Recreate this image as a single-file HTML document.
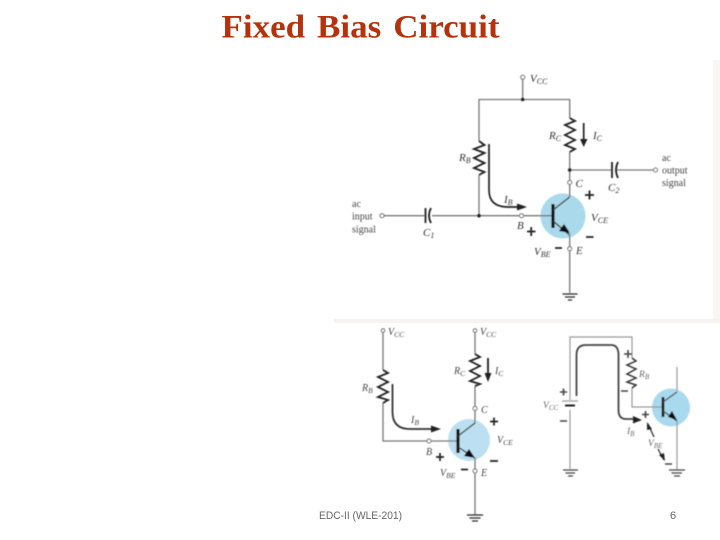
<!DOCTYPE html>
<html><head><meta charset="utf-8"><style>
html,body{margin:0;padding:0;background:#fff}
svg{display:block}
</style></head><body>
<svg xmlns="http://www.w3.org/2000/svg" width="720" height="540" viewBox="0 0 720 540">
<defs><filter id="b" x="-5%" y="-5%" width="110%" height="110%"><feGaussianBlur stdDeviation="0.4"/></filter></defs>
<rect width="720" height="540" fill="#fff"/>
<rect x="713" y="60" width="7" height="263" fill="#f8f7f4"/>
<rect x="334" y="319" width="386" height="4" fill="#f5f4f0"/>
<text x="221.5" y="37.5" font-family="Liberation Serif,serif" font-weight="bold" font-size="33" fill="#b5320c" textLength="278" lengthAdjust="spacingAndGlyphs" word-spacing="3">Fixed Bias Circuit</text>

<g filter="url(#b)">
<!-- TOP CIRCUIT -->
<circle cx="563" cy="216" r="22.5" fill="#a9d9ea"/>
<g fill="none" stroke="#777" stroke-width="1.3">
<path d="M522.7 79.5V99.5M479 141V99.5H569.7V118M569.7 152V180M569.7 185V197"/>
<path d="M479 175V215.7M384 215.7H425M432 215.7H519M524 215.7H552"/>
<path d="M569.7 170H611M617 170H653"/>
<path d="M569.7 235V246.5M569.7 251V293"/>
</g>
<g fill="#fff" stroke="#666" stroke-width="1"><circle cx="522.7" cy="77.3" r="2"/><circle cx="569.7" cy="182.5" r="2"/><circle cx="569.7" cy="248.7" r="2"/><circle cx="521.5" cy="215.7" r="2"/><circle cx="382" cy="215.7" r="2"/><circle cx="655.5" cy="170" r="2"/></g>
<g fill="#222"><circle cx="522.7" cy="99.5" r="1.8"/><circle cx="569.7" cy="170" r="1.8"/><circle cx="479" cy="215.7" r="1.8"/></g>
<g fill="none" stroke="#222" stroke-width="1.8">
<path d="M569.7 118L575 121L565 125L575 130L565 135L575 140L565 145L575 149L569.7 152"/>
<path d="M479 141L484.5 145L474 149L484.5 153L474 158L484.5 163L474 168L484.5 172L479 175"/>
<path d="M425.5 208V223"/><path d="M431 208Q427 215.7 431 223"/>
<path d="M612 162V178"/><path d="M618 162Q614 170 618 178"/>
<path d="M489 144V190Q489 207 508 207H522" stroke-width="1.7"/>
<path d="M583.7 123V143" stroke-width="1.7"/>
</g>
<path d="M527 207L517 203.5V210.5ZM583.7 147L580 139H587.5Z" fill="#222"/>
<path d="M553 204V228" stroke="#111" stroke-width="3.2"/>
<path d="M553 210L569.7 197M553 221L569.7 235" stroke="#333" stroke-width="1.3"/>
<path d="M570 233L559 231L564 224Z" fill="#111"/>
<path d="M562.5 294H577.5M565 297H575M568 300H572" stroke="#222" stroke-width="1.3"/>
<g stroke="#222" stroke-width="1.8"><path d="M585 195H594M589.5 190.5V199.5M527 231.5H535.5M531.2 227V236M555 248H562M586 237H593.5"/></g>

<g font-family="Liberation Serif,serif" fill="#444" font-size="10">
<text x="352" y="207">ac</text><text x="352" y="219.5">input</text><text x="352" y="232.5">signal</text>
<text x="662" y="161">ac</text><text x="662" y="173.5">output</text><text x="662" y="186">signal</text>
</g>
<g font-family="Liberation Serif,serif" fill="#333" font-style="italic" font-size="11">
<text x="530" y="82">V<tspan font-size="8" dy="2">CC</tspan></text>
<text x="549" y="139">R<tspan font-size="8" dy="2">C</tspan></text>
<text x="593" y="139">I<tspan font-size="8" dy="2">C</tspan></text>
<text x="459" y="161">R<tspan font-size="8" dy="2">B</tspan></text>
<text x="504" y="203">I<tspan font-size="8" dy="2">B</tspan></text>
<text x="575.5" y="187">C</text>
<text x="517" y="229">B</text>
<text x="576" y="254">E</text>
<text x="423" y="236">C<tspan font-size="8" dy="2">1</tspan></text>
<text x="608" y="191">C<tspan font-size="8" dy="2">2</tspan></text>
<text x="591" y="221">V<tspan font-size="8" dy="2">CE</tspan></text>
<text x="534" y="255">V<tspan font-size="8" dy="2">BE</tspan></text>
</g>

<!-- BOTTOM LEFT -->
<circle cx="469" cy="440" r="21" fill="#bcdff1"/>
<g fill="none" stroke="#777" stroke-width="1.3">
<path d="M383 332V370M383 403V441H427M431.5 441H457"/>
<path d="M475 332V354M475 386V406.5M475 410.5V423M475 458V469M475 473V515"/>
</g>
<g fill="#fff" stroke="#666" stroke-width="1"><circle cx="383" cy="330.5" r="1.8"/><circle cx="475" cy="330.5" r="1.8"/><circle cx="475" cy="408.5" r="2"/><circle cx="475" cy="471" r="2"/><circle cx="429" cy="441" r="2"/></g>
<g fill="none" stroke="#222" stroke-width="1.8">
<path d="M475 354L480 357L470 361L480 366L470 371L480 376L470 381L480 384L475 386"/>
<path d="M383 370L388 373L378 377L388 382L378 387L388 392L378 397L388 400L383 403"/>
<path d="M392.5 384V412Q392.5 429 410 429H436" stroke="#333"/>
<path d="M488 358V376"/>
</g>
<path d="M441 429L431 425.5V432.5ZM488 382L484.5 373H491.5Z" fill="#222"/>
<path d="M458 429V453" stroke="#111" stroke-width="3.2"/>
<path d="M458 436L475 423M458 447L475 458" stroke="#333" stroke-width="1.3"/>
<path d="M475 458L464 456L469 449Z" fill="#111"/>
<path d="M467 515H483M469.5 518H480.5M472 521H478" stroke="#222" stroke-width="1.3"/>
<g stroke="#222" stroke-width="1.7"><path d="M490 421.5H498M494 417.5V425.5M436 457H444M440 453V461M461 469.5H468M490 461H498"/></g>
<g font-family="Liberation Serif,serif" fill="#444" font-style="italic" font-size="10">
<text x="388" y="335">V<tspan font-size="7.5" dy="2">CC</tspan></text>
<text x="480" y="335">V<tspan font-size="7.5" dy="2">CC</tspan></text>
<text x="454" y="374">R<tspan font-size="7.5" dy="2">C</tspan></text>
<text x="495" y="374">I<tspan font-size="7.5" dy="2">C</tspan></text>
<text x="362" y="391">R<tspan font-size="7.5" dy="2">B</tspan></text>
<text x="411" y="423">I<tspan font-size="7.5" dy="2">B</tspan></text>
<text x="481" y="413">C</text>
<text x="426" y="455">B</text>
<text x="481" y="476">E</text>
<text x="497" y="443">V<tspan font-size="7.5" dy="2">CE</tspan></text>
<text x="440" y="476">V<tspan font-size="7.5" dy="2">BE</tspan></text>
</g>

<!-- BOTTOM RIGHT -->
<circle cx="671" cy="407.5" r="19" fill="#a9d9ef"/>
<g fill="none" stroke="#999" stroke-width="1.2">
<path d="M632 358V337H570V400M570 410V469"/>
<path d="M632 388V407H662"/>
<path d="M677 367V391M677 421V470"/>
</g>
<path d="M576.5 396V355Q576.5 345 586 345H611Q618.5 345 618.5 355V410Q618.5 419 626 419H638" fill="none" stroke="#444" stroke-width="1.8"/>
<path d="M642 420L633 416V423.5Z" fill="#222"/>
<path d="M562 401H578" stroke="#aaa" stroke-width="1.5"/>
<path d="M565 405.5H575" stroke="#222" stroke-width="2"/>
<path d="M632 358L636 361L627 365L636 369L627 374L636 378L627 382L636 385L632 388" fill="none" stroke="#333" stroke-width="1.5"/>
<path d="M663 397V417" stroke="#222" stroke-width="2.8"/>
<path d="M663 402L677 392M663 411L677 421" stroke="#444" stroke-width="1.2"/>
<path d="M677 420L668 417L672 411Z" fill="#111"/>
<path d="M563 470H578M565.5 473H575M568 476H573M669 470H685M671.5 473H682M674 476H680" stroke="#444" stroke-width="1.2"/>
<g stroke="#444" stroke-width="1.6"><path d="M624 354H632M628 350V358M560 392H567M563.5 388.5V395.5M560 421H567M621 391H628M642 414.5H649M645.5 411V418M665 464H672"/></g>
<path d="M648 424L654 437M658 449L664 460" stroke="#333" stroke-width="1.3"/>
<path d="M647 422L652 429L647 430ZM665 461L659 455L664 453Z" fill="#222"/>
<g font-family="Liberation Serif,serif" fill="#666" font-style="italic" font-size="9.5">
<text x="543" y="408">V<tspan font-size="7" dy="2">CC</tspan></text>
<text x="639" y="377">R<tspan font-size="7" dy="2">B</tspan></text>
<text x="627" y="434">I<tspan font-size="7" dy="2">B</tspan></text>
<text x="648" y="446">V<tspan font-size="7" dy="2">BE</tspan></text>
</g>
</g>

<text x="319" y="519" font-family="Liberation Sans,sans-serif" font-size="11" fill="#666" textLength="83" lengthAdjust="spacingAndGlyphs">EDC-II (WLE-201)</text>
<text x="670" y="519" font-family="Liberation Sans,sans-serif" font-size="11" fill="#666">6</text>
</svg>
</body></html>
